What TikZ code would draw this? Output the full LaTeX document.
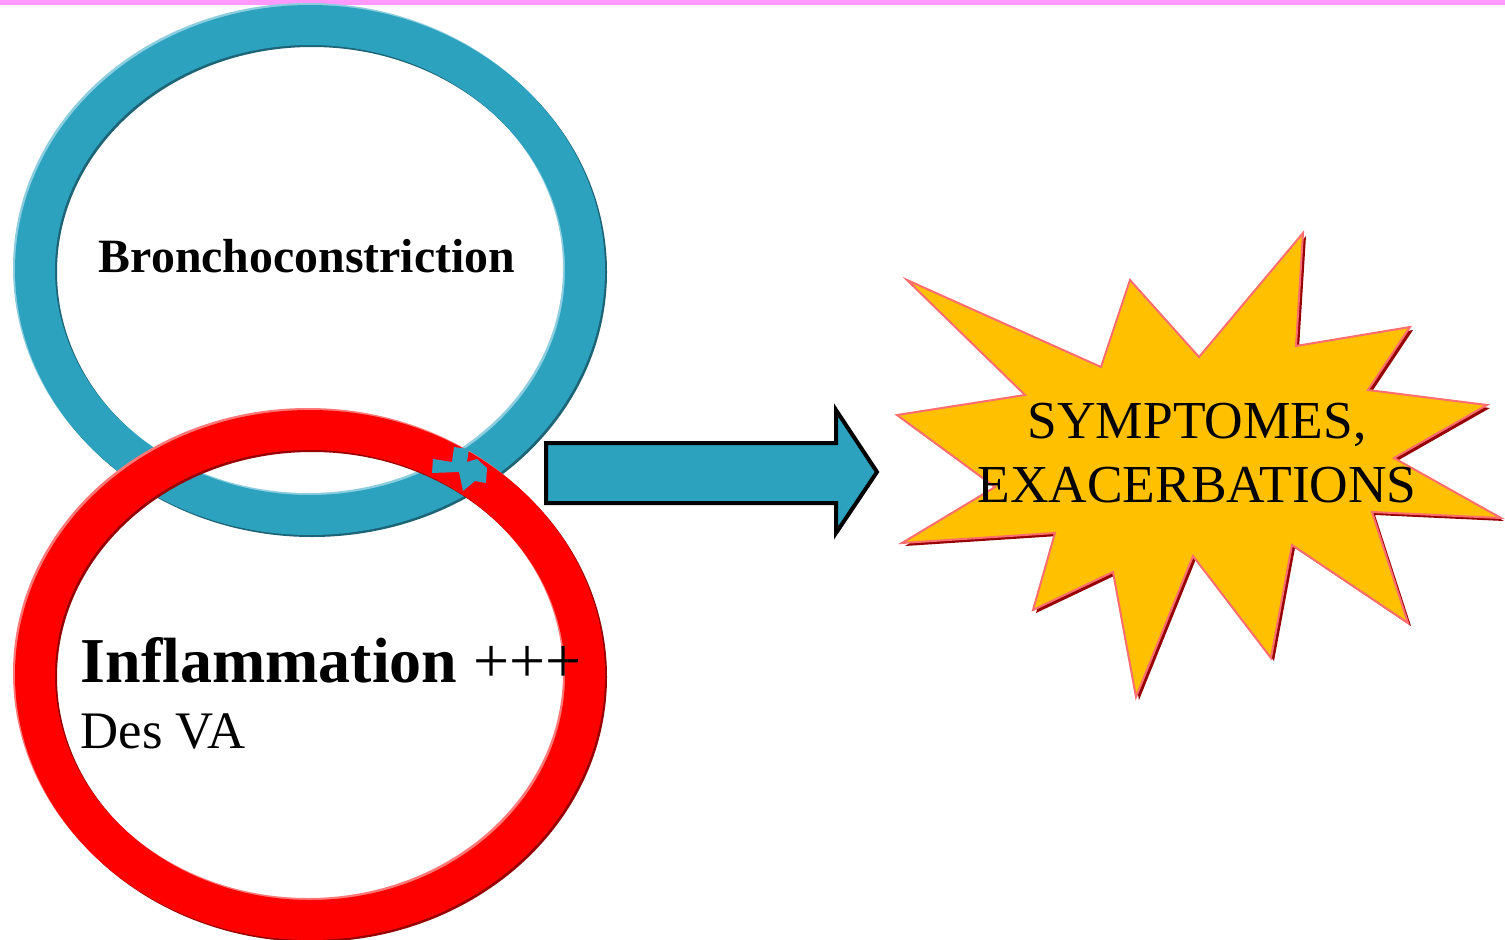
\documentclass[tikz,border=0pt]{standalone}
\usepackage{fontspec}
\setmainfont{Liberation Serif}
\definecolor{ringblue}{RGB}{44,162,191}
\definecolor{ringbluedark}{RGB}{28,100,118}
\definecolor{ringbluelight}{RGB}{140,206,224}
\definecolor{ringred}{RGB}{255,0,0}
\definecolor{ringreddark}{RGB}{150,0,0}
\definecolor{ringredlight}{RGB}{255,120,120}
\definecolor{starfill}{RGB}{255,192,0}
\definecolor{staredge}{RGB}{255,110,110}
\definecolor{starshadow}{RGB}{150,0,0}
\definecolor{topline}{RGB}{255,153,255}

\begin{document}
\begin{tikzpicture}[x=0.1mm,y=-0.1mm,
  ring/.style={line width=4mm},
  title text/.style={font=\fontsize{13.6}{16}\selectfont\bfseries,anchor=base},
  star text/.style={font=\fontsize{15.2}{18}\selectfont,anchor=base},
  left text/.style={anchor=base west,inner sep=0pt}]

  \useasboundingbox (0,0) rectangle (1505,940);
  \fill[topline] (0,0) rectangle (1505,5);

  % blue ring
  \coordinate (bc) at (310,270);
  \draw[ring,ringbluelight] ([shift={(-2,-2)}]bc) ellipse [x radius=275, y radius=245];
  \draw[ring,ringbluedark] ([shift={(2,2)}]bc) ellipse [x radius=275, y radius=245];
  \draw[ring,ringblue] (bc) ellipse [x radius=275, y radius=245];

  % red ring
  \coordinate (ic) at (310,675);
  \draw[ring,ringredlight] ([shift={(-2,-2)}]ic) ellipse [x radius=275, y radius=245];
  \draw[ring,ringreddark] ([shift={(2,2)}]ic) ellipse [x radius=275, y radius=245];
  \draw[ring,ringred] (ic) ellipse [x radius=275, y radius=245];

  % link piece
  \fill[ringblue] (433,459) -- (452,462) -- (454,447) -- (469,449) -- (467,462)
    -- (477,459) -- (487,468) -- (486,483) -- (475,481) -- (463,491)
    -- (459,472) -- (432,473) -- cycle;

  \node[title text] (broncho) at (307,272) {Bronchoconstriction};
  \node[left text,font=\fontsize{18.2}{22}\selectfont] (inflam) at (80,682)
    {\textbf{Inflammation} +++};
  \node[left text,font=\fontsize{15}{18}\selectfont] (desva) at (80,748) {Des VA};

  % block arrow
  \draw[fill=ringblue,line width=0.4mm,line join=miter]
    (546,443) -- (836,443) -- (836,410) -- (877,472) -- (836,533)
    -- (836,503) -- (546,503) -- cycle;

  % star
  \def\starpath{(907,280) -- (1101,367) -- (1130,280) -- (1199,357) -- (1303,233)
    -- (1296,346) -- (1410,327) -- (1368,390) -- (1487,405) -- (1394,458)
    -- (1501,518) -- (1372,512) -- (1408,623) -- (1292,545) -- (1271,658)
    -- (1193,556) -- (1136,697) -- (1113,572) -- (1033,610) -- (1055,533)
    -- (902,543) -- (995,487) -- (897,415) -- (1025,395) -- cycle}
  \fill[starshadow,shift={(3,3)}] \starpath;
  \filldraw[fill=starfill,draw=staredge,line width=0.2mm] \starpath;

  \node[star text] (symp) at (1197,438) {SYMPTOMES,};
  \node[star text] (exac) at (1197,502) {EXACERBATIONS};
\end{tikzpicture}
\end{document}
